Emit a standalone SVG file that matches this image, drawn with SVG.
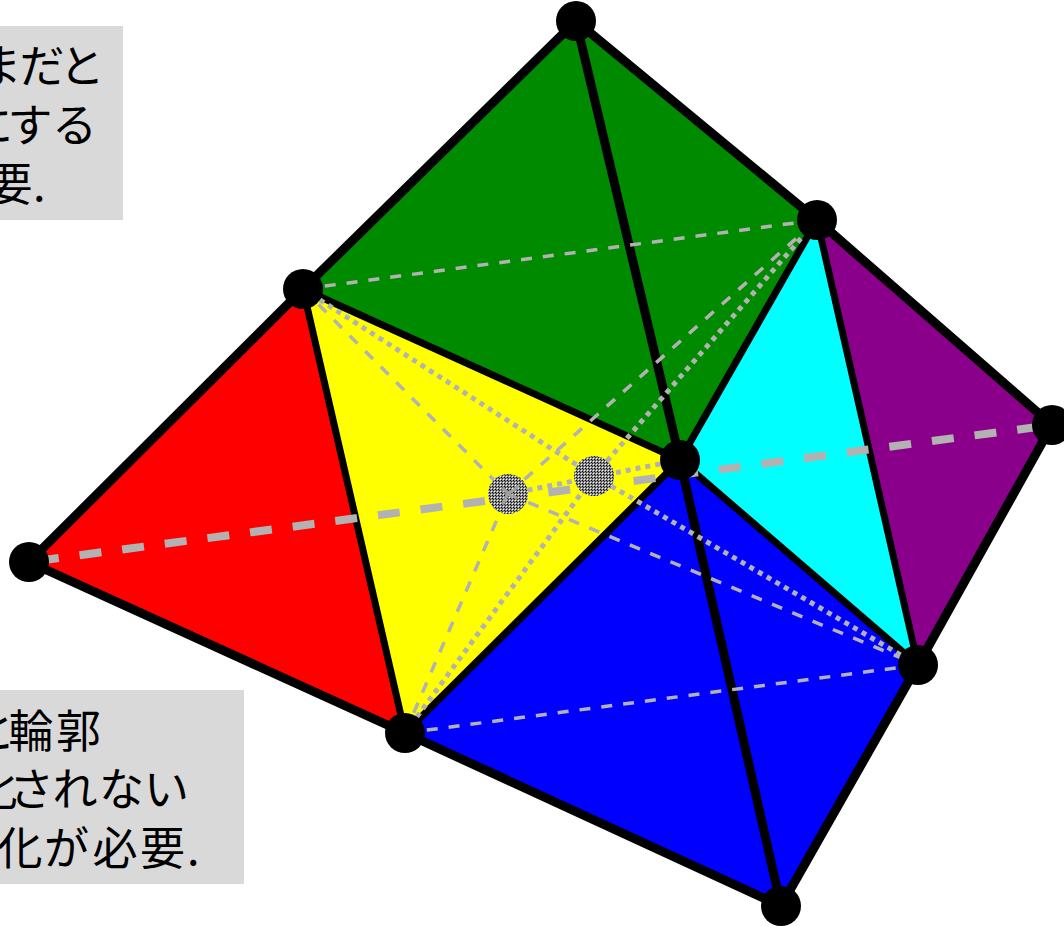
<svg xmlns="http://www.w3.org/2000/svg" width="1064" height="926" viewBox="0 0 1064 926">
<style>
.t{font-family:"Noto Sans CJK JP","Liberation Sans",sans-serif;font-size:45px;fill:#000}
.box{fill:#d9d9d9}
.e{stroke:#000;stroke-width:9;stroke-linejoin:round;fill:none}
.thin{stroke:#000;stroke-width:7;fill:none}
.d{stroke:#b2b2b2;fill:none}
.dash{stroke-width:3.5;stroke-dasharray:11 11}
.dot{stroke-width:5;stroke-dasharray:5 5}
.big{stroke-width:8;stroke-dasharray:22 21;stroke-dashoffset:-8}
</style>
<defs>
<pattern id="dither" width="3" height="3" patternUnits="userSpaceOnUse">
<rect width="3" height="3" fill="#8c8c8c"/><rect width="1" height="1" fill="#000"/><rect x="1" y="1" width="1" height="1" fill="#222"/><rect x="2" y="2" width="1" height="1" fill="#fff"/>
</pattern>
</defs>
<g id="note-top"><rect class="box" x="0" y="26" width="123" height="194"/>
<text class="t" x="-23.5 19.5 59.5" y="83">まだと</text>
<text class="t" x="-32 7.5 52" y="142">にする</text>
<text class="t" x="-12.5 33" y="201">要.</text></g>
<g id="note-bottom"><rect class="box" x="0" y="690" width="244" height="194"/>
<text class="t" x="-29.5 8.5 56" y="748">と輪郭</text>
<text class="t" x="-27.5 9 52.5 99 144" y="806">化されない</text>
<text class="t" x="-2.5 44 92.5 140 187" y="865">化が必要.</text></g>
<g id="faces">
<polygon id="face-red" fill="#f00" points="29,562 303,289 405,733"/>
<polygon id="face-yellow" fill="#ff0" points="303,289 680,460 405,733"/>
<polygon id="face-green" fill="#008a00" points="303,289 576,21 817,220 680,460"/>
<polygon id="face-cyan" fill="#0ff" points="817,220 918,665 680,460"/>
<polygon id="face-purple" fill="#8a008a" points="817,220 1052,425 918,665"/>
<polygon id="face-blue" fill="#00f" points="405,733 680,460 918,665 781,906"/>
</g>
<g id="connectors">
<path class="e" d="M29,562L303,289L576,21L817,220L1052,425L918,665L781,906L405,733Z"/>
<path class="thin" d="M303,289L405,733M405,733L680,460M303,289L680,460M680,460L817,220M817,220L918,665M680,460L918,665"/>
<path class="e" d="M576,21L680,460L781,906"/>
<path class="d dash" d="M303,289L817,220M405,733L918,665M303,289L508,494M405,733L508,494M508,494L918,665M508,494L817,220"/>
<path class="d dot" d="M303,289L594,476M405,733L594,476M594,476L918,665M594,476L817,220M508,494L680,460"/>
<path class="d big" d="M29,562L1052,425"/>
</g>
<g id="vertex-a"><circle cx="594" cy="476" r="20" fill="url(#dither)"/></g>
<g id="vertex-b"><circle cx="508" cy="494" r="20" fill="url(#dither)"/>
<path stroke="#a0a0a0" fill="none" stroke-width="3" d="M502,488L508,494M508,494L519,486M508,494L503,504M508,494L517,498"/></g>
<g id="nodes">
<circle id="n1" cx="29" cy="562" r="20"/>
<circle id="n2" cx="303" cy="289" r="20"/>
<circle id="n3" cx="576" cy="21" r="20"/>
<circle id="n4" cx="817" cy="220" r="20"/>
<circle id="n5" cx="1052" cy="425" r="20"/>
<circle id="n6" cx="918" cy="665" r="20"/>
<circle id="n7" cx="781" cy="906" r="20"/>
<circle id="n8" cx="405" cy="733" r="20"/>
<circle id="n9" cx="680" cy="460" r="20"/>
</g>
</svg>
